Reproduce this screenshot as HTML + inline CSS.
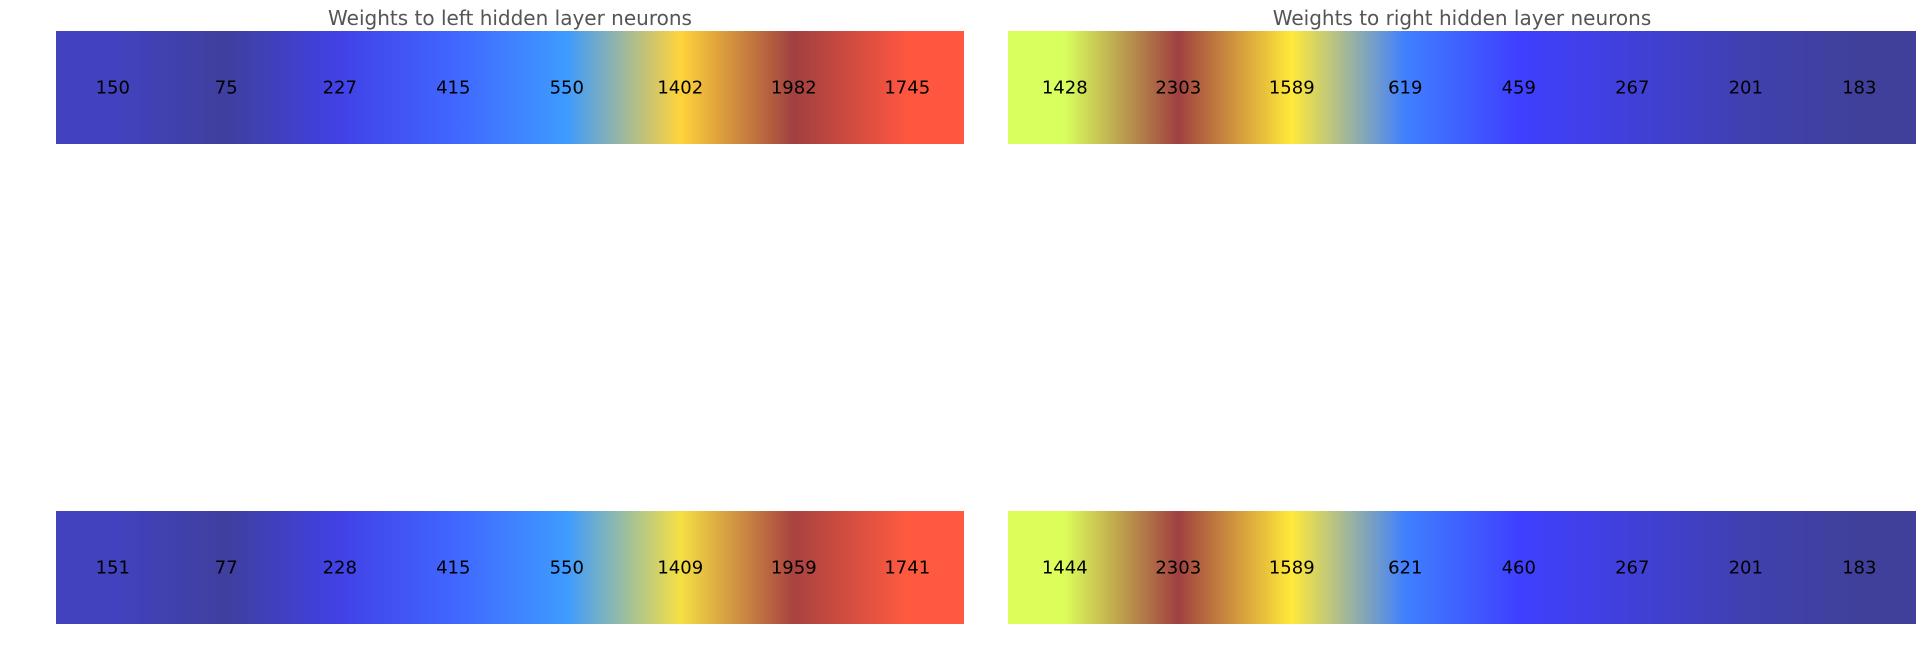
<!DOCTYPE html>
<html><head><meta charset="utf-8"><style>
html,body{margin:0;padding:0;background:#fff;width:1925px;height:658px;overflow:hidden}
svg text{font-family:"DejaVu Sans","Liberation Sans",sans-serif}
</style></head><body>
<svg id="chart" width="1925" height="658" xmlns="http://www.w3.org/2000/svg">
<defs id="defs"></defs>
<text x="510" y="25" font-size="20" fill="#555" text-anchor="middle">Weights to left hidden layer neurons</text>
<text x="1462" y="25" font-size="20" fill="#555" text-anchor="middle">Weights to right hidden layer neurons</text>
</svg>
<script>
const leftTop = [150, 75, 227, 415, 550, 1402, 1982, 1745];
const leftBottom = [151, 77, 228, 415, 550, 1409, 1959, 1741];
const rightTop = [1428, 2303, 1589, 619, 459, 267, 201, 183];
const rightBottom = [1444, 2303, 1589, 621, 460, 267, 201, 183];
const cmapValues = [75, 150, 183, 201, 227, 267, 415, 459, 550, 619, 1402, 1428, 1589, 1745, 1982, 2303];
const cmapColors = ['#3f3f9e','#4242c0','#40409a','#4040b0','#4141e6','#4040d8','#4166ff','#3f3fff','#3d9bff','#3f80ff','#ffd43b','#d8ff5e','#ffea3a','#ff5640','#a04040','#a04040'];

function hex2rgb(h){return [1,3,5].map(i=>parseInt(h.substr(i,2),16));}
function colorFor(v){
  if(v<=cmapValues[0])return cmapColors[0];
  for(let i=1;i<cmapValues.length;i++){
    if(v<=cmapValues[i]){
      const t=(v-cmapValues[i-1])/(cmapValues[i]-cmapValues[i-1]);
      const a=hex2rgb(cmapColors[i-1]),b=hex2rgb(cmapColors[i]);
      return 'rgb('+a.map((c,k)=>Math.round(c+(b[k]-c)*t)).join(',')+')';
    }
  }
  return cmapColors[cmapColors.length-1];
}
const svg=document.getElementById('chart');
const defs=document.getElementById('defs');
const NS='http://www.w3.org/2000/svg';
function drawRow(values,x0,x1,y0,y1,id,name){
  const n=values.length,w=(x1-x0)/n;
  const g=document.createElementNS(NS,'linearGradient');
  g.setAttribute('id',id);
  values.forEach((v,i)=>{
    const s=document.createElementNS(NS,'stop');
    s.setAttribute('offset',((i+0.5)/n*100)+'%');
    s.setAttribute('stop-color',colorFor(v));
    g.appendChild(s);
  });
  defs.appendChild(g);
  const r=document.createElementNS(NS,'rect');
  r.setAttribute('x',x0);r.setAttribute('y',y0);
  r.setAttribute('width',x1-x0);r.setAttribute('height',y1-y0);
  r.setAttribute('fill','url(#'+id+')');
  
  
  svg.appendChild(r);
  values.forEach((v,i)=>{
    const t=document.createElementNS(NS,'text');
    t.setAttribute('x',x0+(i+0.5)*w);
    t.setAttribute('y',(y0+y1)/2+6);
    t.setAttribute('font-size','18');
    t.setAttribute('text-anchor','middle');
    t.setAttribute('fill','#000');
    t.textContent=v;
    
    
    svg.appendChild(t);
  });
}
drawRow(leftTop,56,964,31,144,'g1','left-top-heatmap-row');
drawRow(leftBottom,56,964,511,624,'g2','left-bottom-heatmap-row');
drawRow(rightTop,1008,1916,31,144,'g3','right-top-heatmap-row');
drawRow(rightBottom,1008,1916,511,624,'g4','right-bottom-heatmap-row');
</script>
</body></html>
